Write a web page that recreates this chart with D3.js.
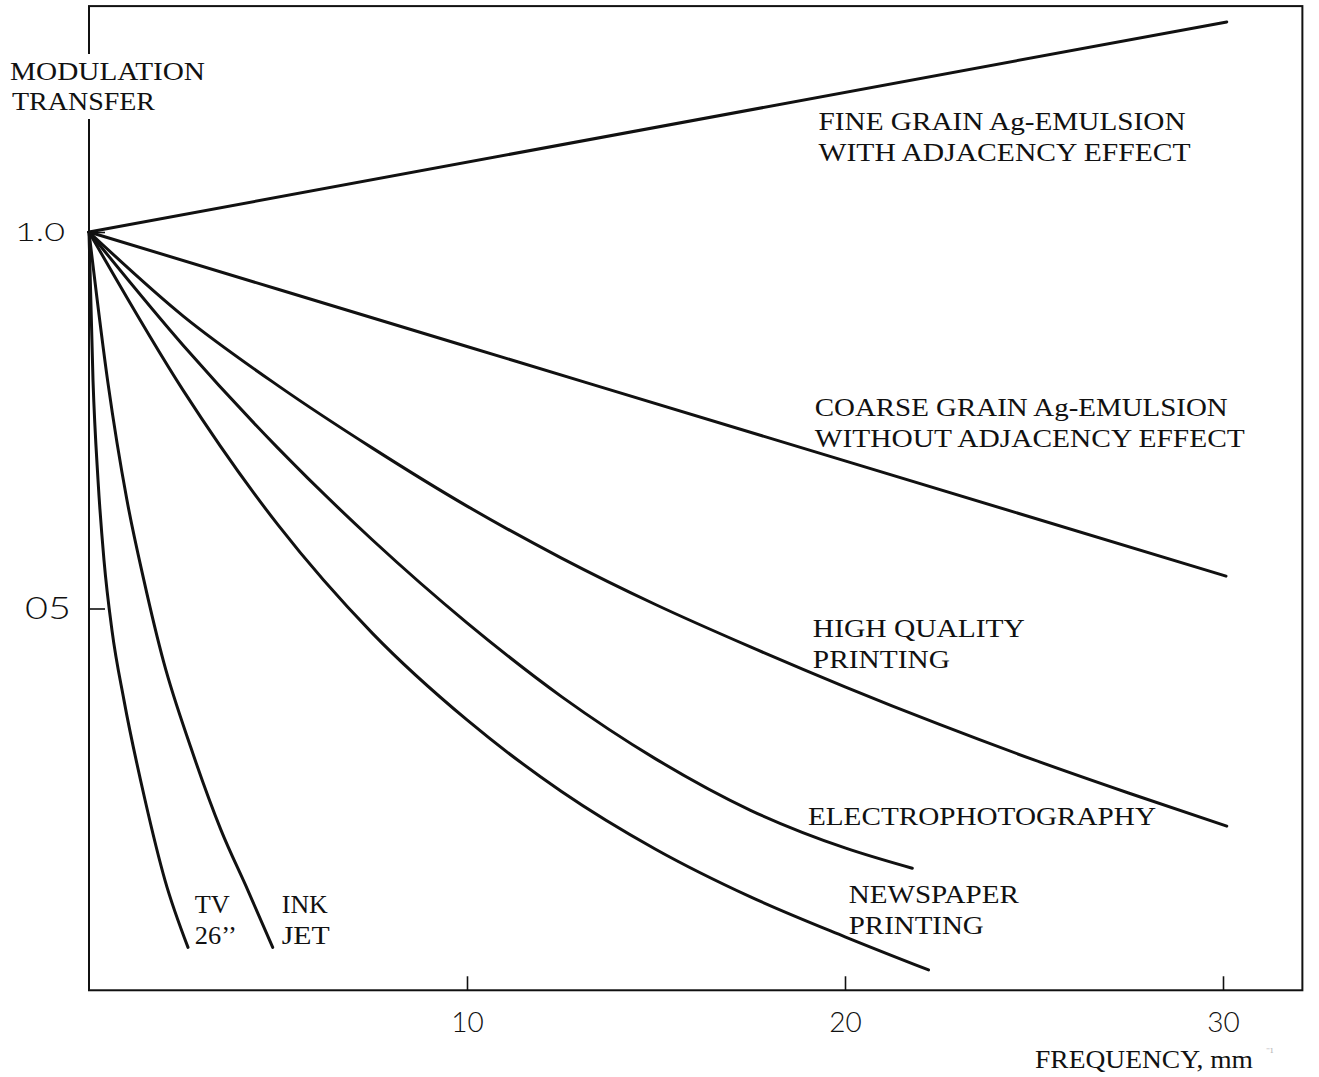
<!DOCTYPE html>
<html><head><meta charset="utf-8">
<script src="https://cdn.jsdelivr.net/npm/d3@7"></script>
<style>body{margin:0;background:#fff}svg{display:block}</style>
</head><body><svg id="c" width="1319" height="1077"></svg>
<script>
// ---- data (frequency in mm^-1, modulation transfer) ----
const xTickValues = [10, 20, 30];
const xTickLabels = ["10", "20", "30"];
const yTickValues = [1.0, 0.5];
const yTickLabels = ["1.0", "05"];

const fineGrain   = [[0,1.0],[30.1,1.279]];
const coarseGrain = [[0,1.0],[10,0.848],[20,0.696],[30.08,0.543]];
const highQuality = [[0,1.0],[2.5,0.888],[5,0.796],[7.5,0.713],[10,0.636],[12.5,0.567],[15,0.505],[17.5,0.449],[20,0.396],[22.5,0.346],[25,0.299],[27.5,0.255],[30.1,0.211]];
const electro     = [[0,1.0],[2.5,0.849],[5,0.713],[7.5,0.591],[10,0.481],[12.5,0.383],[15,0.300],[17.5,0.232],[20,0.182],[21.78,0.155]];
const newspaper   = [[0,1.0],[2.5,0.789],[5,0.611],[7.5,0.467],[10,0.352],[12.5,0.257],[15,0.180],[17.5,0.117],[20,0.064],[22.21,0.020]];
const inkJet      = [[0,1.0],[0.5,0.80],[1.0,0.645],[1.45,0.538],[1.98,0.428],[2.69,0.316],[3.49,0.206],[4.2,0.126],[4.86,0.05]];
const tv26        = [[0,1.0],[0.106,0.803],[0.238,0.671],[0.397,0.564],[0.608,0.471],[0.926,0.378],[1.481,0.246],[2.011,0.139],[2.619,0.05]];

const seriesList = [fineGrain, coarseGrain, highQuality, electro, newspaper, inkJet, tv26];

// curve labels: anchor in data units, lines, target widths
const curveLabels = [
  {fx:19.3,  fy:1.135, lines:["FINE GRAIN Ag-EMULSION","WITH ADJACENCY EFFECT"], widths:[367,372]},
  {fx:19.2,  fy:0.756, lines:["COARSE GRAIN Ag-EMULSION","WITHOUT ADJACENCY EFFECT"], widths:[413,430]},
  {fx:19.15, fy:0.462, lines:["HIGH QUALITY","PRINTING"], widths:[212,137]},
  {fx:19.02, fy:0.213, lines:["ELECTROPHOTOGRAPHY"], widths:[348]},
  {fx:20.1,  fy:0.109, lines:["NEWSPAPER","PRINTING"], widths:[170,135]},
  {fx:2.8,   fy:0.096, lines:["TV","26\u2019\u2019"], widths:[35,42]},
  {fx:5.1,   fy:0.096, lines:["INK","JET"], widths:[46,48]}
];

// ---- layout ----
const svg = d3.select("#c");
const x = d3.scaleLinear().domain([0,30]).range([89,1223]);
const y = d3.scaleLinear().domain([0,1]).range([985,232]);
const xMax = 32.1, yMax = 1.3, yMin = -0.007;
const ink = "#111";

// frame
svg.append("rect")
  .attr("x", x(0)).attr("y", y(yMax))
  .attr("width", x(xMax)-x(0)).attr("height", y(yMin)-y(yMax))
  .attr("fill","none").attr("stroke",ink).attr("stroke-width",2);
// gap in the left frame behind the axis title
svg.append("rect").attr("x", x(0)-4).attr("y", 54).attr("width", 8).attr("height", 65).attr("fill","#fff");

// x axis
const gx = svg.append("g").attr("transform",`translate(0,${y(yMin)})`)
  .call(d3.axisBottom(x).tickValues(xTickValues).tickFormat((d,i)=>xTickLabels[i]).tickSize(-14).tickSizeOuter(0).tickPadding(22));
gx.select(".domain").remove();
gx.selectAll(".tick line").attr("stroke",ink).attr("stroke-width",1.6);
gx.selectAll(".tick text").attr("fill",ink).attr("font-family","Lato, 'DejaVu Sans', sans-serif")
  .attr("font-size",28).attr("font-weight",300).attr("dy","0.71em");

// y axis
const gy = svg.append("g").attr("transform",`translate(${x(0)},0)`)
  .call(d3.axisLeft(y).tickValues(yTickValues).tickFormat((d,i)=>yTickLabels[i]).tickSize(-16).tickSizeOuter(0).tickPadding(18));
gy.select(".domain").remove();
gy.selectAll(".tick line").attr("stroke",ink).attr("stroke-width",1.6);
gy.selectAll(".tick text").attr("fill",ink).attr("font-family","Lato, 'DejaVu Sans', sans-serif")
  .attr("font-weight",300)
  .attr("font-size",(d,i)=> i===0 ? 26 : 31)
  .attr("dx",(d,i)=> i===0 ? -6 : 0)
  .attr("textLength",(d,i)=> i===0 ? 50 : 46)
  .attr("lengthAdjust","spacingAndGlyphs");

// curves
const line = d3.line().x(d=>x(d[0])).y(d=>y(d[1])).curve(d3.curveMonotoneX);
svg.append("g").selectAll("path").data(seriesList).join("path")
  .attr("d", line).attr("fill","none").attr("stroke",ink)
  .attr("stroke-width",3).attr("stroke-linecap","round").attr("stroke-linejoin","round");

// labels
const serif = "'Liberation Serif', 'Times New Roman', serif";
function addText(px, py, txt, w, size){
  svg.append("text").attr("x",px).attr("y",py).text(txt)
    .attr("font-family",serif).attr("font-size",size||25).attr("fill",ink)
    .attr("textLength",w).attr("lengthAdjust","spacingAndGlyphs");
}
curveLabels.forEach(l=>{
  l.lines.forEach((t,i)=> addText(x(l.fx), y(l.fy)+i*31, t, l.widths[i]));
});
addText(10, 80, "MODULATION", 195, 25);
addText(12, 110, "TRANSFER", 143, 25);
addText(1035, 1068, "FREQUENCY, mm", 218, 25);
svg.append("text").attr("x",1266).attr("y",1056).text("\u207B\u00B9")
  .attr("font-family",serif).attr("font-size",12).attr("fill","#bbb");
</script>
</body></html>
